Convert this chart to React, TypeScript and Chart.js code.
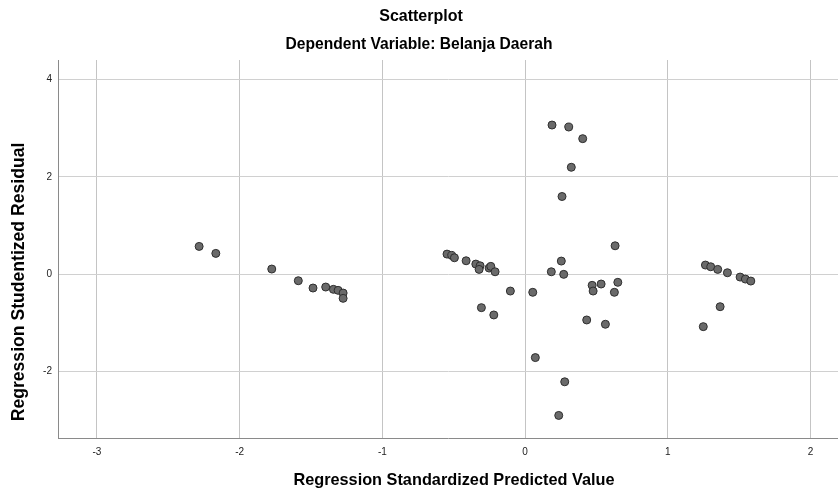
import React, { useEffect, useRef } from "react";
import { Chart, registerables } from "chart.js";

Chart.register(...registerables);

const chartTitle = "Scatterplot";
const chartSubtitle = "Dependent Variable: Belanja Daerah";
const xAxisTitle = "Regression Standardized Predicted Value";
const yAxisTitle = "Regression Studentized Residual";

const xTickValues = [-3, -2, -1, 0, 1, 2];
const yTickValues = [-2, 0, 2, 4];

const predictedValues = [
  -2.284, -2.167, -1.775, -1.589, -1.486, -1.397, -1.343, -1.31, -1.275, -1.275,
  -0.547, -0.514, -0.495, -0.413, -0.345, -0.315, -0.322, -0.252, -0.24, -0.21,
  -0.103, -0.306, -0.219,
  0.189, 0.306, 0.404, 0.324, 0.259, 0.631, 0.254, 0.184, 0.271, 0.054, 0.47,
  0.477, 0.533, 0.65, 0.626, 0.432, 0.563, 0.072, 0.278, 0.236,
  1.264, 1.301, 1.35, 1.418, 1.507, 1.544, 1.582, 1.367, 1.249,
];

const studentizedResiduals = [
  0.568, 0.425, 0.103, -0.137, -0.287, -0.267, -0.314, -0.335, -0.39, -0.499,
  0.41, 0.383, 0.335, 0.273, 0.205, 0.17, 0.096, 0.123, 0.158, 0.047,
  -0.349, -0.691, -0.841,
  3.063, 3.022, 2.783, 2.195, 1.594, 0.581, 0.267, 0.047, -0.006, -0.375, -0.232,
  -0.349, -0.205, -0.17, -0.375, -0.944, -1.032, -1.717, -2.215, -2.906,
  0.185, 0.15, 0.096, 0.027, -0.062, -0.103, -0.144, -0.671, -1.081,
];

const FONT = "Arial, 'Liberation Sans', sans-serif";

export default function App() {
  const canvasRef = useRef<HTMLCanvasElement | null>(null);

  useEffect(() => {
    const canvas = canvasRef.current;
    if (!canvas) return;

    const textPlugin = {
      id: "spssText",
      afterDraw(chart: any) {
        const ctx = chart.ctx as CanvasRenderingContext2D;
        ctx.save();
        ctx.fillStyle = "#000000";
        ctx.textAlign = "center";
        ctx.textBaseline = "middle";
        ctx.font = `bold 16px ${FONT}`;
        ctx.fillText(chartTitle, 421, 17);
        ctx.font = `bold 15.6px ${FONT}`;
        ctx.fillText(chartSubtitle, 419, 45);
        ctx.font = `bold 16.3px ${FONT}`;
        ctx.fillText(xAxisTitle, 454, 481);
        ctx.font = `bold 17.6px ${FONT}`;
        ctx.translate(19, 282);
        ctx.rotate(-Math.PI / 2);
        ctx.fillText(yAxisTitle, 0, 0);
        ctx.restore();
      },
    };

    const chart = new Chart(canvas, {
      type: "scatter",
      data: {
        datasets: [
          {
            data: predictedValues.map((x, i) => ({ x, y: studentizedResiduals[i] })),
            backgroundColor: "#6a6a6a",
            borderColor: "#2e2e2e",
            borderWidth: 1,
            pointRadius: 4,
            pointHoverRadius: 4,
            clip: false,
          },
        ],
      },
      options: {
        animation: false,
        responsive: false,
        layout: { autoPadding: false, padding: { top: 60, left: 0, right: 0, bottom: 0 } },
        plugins: {
          legend: { display: false },
          tooltip: { enabled: false },
          title: { display: false },
        },
        scales: {
          x: {
            type: "linear",
            min: -3.273,
            max: 2.193,
            afterBuildTicks: (scale: any) => {
              scale.ticks = xTickValues.map((v) => ({ value: v }));
            },
            afterFit: (scale: any) => {
              scale.height = 54;
              scale.paddingLeft = 0;
              scale.paddingRight = 0;
            },
            grid: { color: "#c4c4c4", lineWidth: 1, drawTicks: false },
            border: { display: true, color: "#8a8a8a", width: 1 },
            ticks: {
              padding: 8,
              color: "#222222",
              font: { family: FONT, size: 10 },
              callback: (v: any) => String(v),
            },
          },
          y: {
            type: "linear",
            min: -3.37,
            max: 4.4,
            afterBuildTicks: (scale: any) => {
              scale.ticks = yTickValues.map((v) => ({ value: v }));
            },
            afterFit: (scale: any) => {
              scale.width = 58;
              scale.paddingTop = 0;
              scale.paddingBottom = 0;
            },
            grid: { color: "#d0d0d0", lineWidth: 1, drawTicks: false },
            border: { display: true, color: "#8a8a8a", width: 1 },
            ticks: {
              padding: 6,
              color: "#222222",
              font: { family: FONT, size: 10 },
              callback: (v: any) => String(v),
            },
          },
        },
      },
      plugins: [textPlugin],
    });

    return () => {
      chart.destroy();
    };
  }, []);

  return (
    <div style={{ position: "fixed", left: 0, top: 0, width: 838, height: 492, background: "#ffffff" }}>
      <canvas ref={canvasRef} width={838} height={492} style={{ display: "block", width: 838, height: 492 }} />
    </div>
  );
}
